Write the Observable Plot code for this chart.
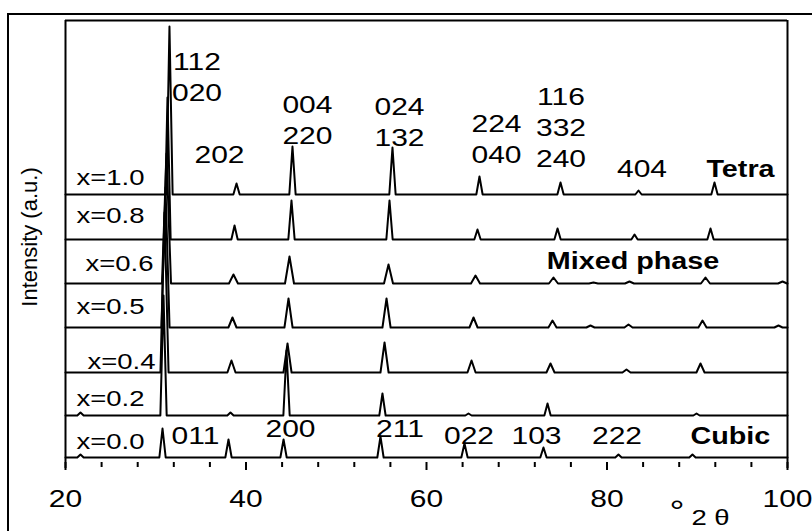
<!DOCTYPE html>
<html>
<head>
<meta charset="utf-8">
<script src="https://cdn.jsdelivr.net/npm/d3@7"></script>
<script src="https://cdn.jsdelivr.net/npm/@observablehq/plot@0.6"></script>
<style>
  html, body { margin: 0; padding: 0; background: #fff; }
  #wrap { position: relative; width: 812px; height: 531px; overflow: hidden; }
  #outer { position: absolute; left: 7px; top: 13px; width: 900px; height: 600px;
           border-top: 2px solid #000; border-left: 2px solid #000; }
  #chart { position: absolute; left: 0; top: 0; }
</style>
</head>
<body>
<div id="wrap"><div id="outer"></div><div id="chart"></div></div>
<script>
// ---- data (2θ in degrees, intensity in arbitrary stacked units) ----
const compositions = ["x=0.0", "x=0.2", "x=0.4", "x=0.5", "x=0.6", "x=0.8", "x=1.0"];
const stackOffsets = [5, 47, 90, 135, 179, 223, 268];
const peakHalfWidth = [0.35, 0.35, 0.45, 0.45, 0.5, 0.35, 0.35];

const peaks00 = [21.66, 30.75, 38.06, 44.16, 54.9, 64.21, 72.96, 81.27, 89.47];
const heights00 = [3, 29, 18, 18, 21, 14, 10, 3, 3];
const peaks02 = [21.66, 30.86, 38.28, 44.49, 55.12, 64.65, 73.41, 89.92];
const heights02 = [3, 120, 3, 65, 22, 2, 12, 2];
const peaks04 = [30.97, 38.39, 44.60, 55.35, 64.99, 73.74, 82.16, 90.36];
const heights04 = [160, 12, 29, 30, 12, 9, 3, 9];
const peaks05 = [31.08, 38.50, 44.71, 55.57, 65.21, 73.96, 78.17, 82.38, 90.58, 99.0];
const heights05 = [140, 10, 29, 29, 10, 7, 2, 3, 7, 2];
const peaks06 = [31.19, 38.61, 44.82, 55.79, 65.43, 74.07, 78.5, 82.49, 90.91, 99.45];
const heights06 = [130, 9, 27, 19, 8, 6, 1, 2, 6, 2];
const peaks08 = [31.30, 38.73, 45.04, 55.90, 65.65, 74.52, 83.05, 91.47];
const heights08 = [142, 14, 39, 39, 10, 11, 5, 11];
const peaks10 = [31.52, 38.95, 45.15, 56.23, 65.87, 74.85, 83.49, 91.91];
const heights10 = [168, 11, 48, 47, 18, 12, 4, 12];

const peakSets = [peaks00, peaks02, peaks04, peaks05, peaks06, peaks08, peaks10];
const heightSets = [heights00, heights02, heights04, heights05, heights06, heights08, heights10];

const xMajorTicks = [20, 40, 60, 80, 100];
const xMinorTicks = [24, 28, 32, 36, 44, 48, 52, 56, 64, 68, 72, 76, 84, 88, 92, 96];

// annotations (anchor in data units)
const sampleLabelX = [21.22, 21.22, 22.44, 21.22, 22.22, 21.22, 21.22];
const sampleLabelY = [14, 57, 94, 149, 192, 240, 278];

const hklText = ["112\n020", "202", "004\n220", "024\n132", "224\n040", "116\n332\n240", "404",
                 "011", "200", "211", "022", "103", "222"];
const hklX = [34.57, 37.06, 46.81, 57.01, 67.76, 74.90, 83.88, 34.40, 44.93, 57.06, 64.71, 72.19, 81.11];
const hklY = [362, 300, 319, 317, 300, 296, 286, 19, 26, 26, 19, 19, 19];

const phaseText = ["Tetra", "Mixed phase", "Cubic"];
const phaseX = [94.79, 82.88, 93.67];
const phaseY = [286, 194, 19];

// ---- build line table ----
const traces = [];
compositions.forEach((c, s) => {
  const off = stackOffsets[s], w = peakHalfWidth[s];
  traces.push({series: c, x: 20, y: off});
  peakSets[s].forEach((p, i) => {
    traces.push({series: c, x: p - w, y: off});
    traces.push({series: c, x: p, y: off + heightSets[s][i]});
    traces.push({series: c, x: p + w, y: off});
  });
  traces.push({series: c, x: 100, y: off});
});

const sampleLabels = compositions.map((t, i) => ({t, x: sampleLabelX[i], y: sampleLabelY[i]}));
const hklLabels = hklText.map((t, i) => ({t, x: hklX[i], y: hklY[i]}));
const phaseLabels = phaseText.map((t, i) => ({t, x: phaseX[i], y: phaseY[i]}));

const chart = Plot.plot({
  width: 812,
  height: 531,
  marginLeft: 65,
  marginRight: 25,
  marginTop: 20,
  marginBottom: 69,
  x: {domain: [20, 100], label: null},
  y: {domain: [0, 442], axis: null},
  style: {fontFamily: "'Liberation Sans', Arial, sans-serif", background: "transparent", color: "#000"},
  marks: [
    Plot.axisX({ticks: xMajorTicks, tickSize: 8, tickPadding: 19, fontSize: 24, strokeWidth: 2, label: null}),
    Plot.axisX({ticks: xMinorTicks, tickSize: 5, tickFormat: () => "", strokeWidth: 2, label: null}),
    Plot.ruleX([20, 100], {y1: -6, y2: 442, stroke: "#000", strokeWidth: 2}),
    Plot.ruleY([442], {x1: 20, x2: 100, stroke: "#000", strokeWidth: 2}),
    Plot.line(traces, {x: "x", y: "y", z: "series", stroke: "#000", strokeWidth: 2, strokeLinejoin: "round"}),
    Plot.text(sampleLabels, {x: "x", y: "y", text: "t", textAnchor: "start", lineAnchor: "bottom", fontSize: 22, fill: "#000"}),
    Plot.text(hklLabels, {x: "x", y: "y", text: "t", textAnchor: "middle", lineAnchor: "bottom", fontSize: 24, lineHeight: 1.28, fill: "#000"}),
    Plot.text(phaseLabels, {x: "x", y: "y", text: "t", textAnchor: "middle", lineAnchor: "bottom", fontSize: 23, fontWeight: "bold", fill: "#000"}),
    Plot.text(["°"], {x: 87.76, y: -58, text: d => d, textAnchor: "middle", lineAnchor: "bottom", fontSize: 30, fill: "#000"}),
    Plot.text(["2 θ"], {x: 91.47, y: -62, text: d => d, textAnchor: "middle", lineAnchor: "bottom", fontSize: 22, fill: "#000"}),
    Plot.text(["Intensity (a.u.)"], {x: 16.79, y: 225.5, text: d => d, rotate: -90, textAnchor: "middle", lineAnchor: "bottom", fontSize: 22, fill: "#000"})
  ]
});

// widen horizontal text to match the reference's stretched lettering
d3.select(chart).selectAll("text").each(function() {
  const t = this.getAttribute("transform") || "";
  if (t.includes("rotate")) return;
  this.setAttribute("transform", (t + " scale(1.25,1)").trim());
});

document.getElementById("chart").appendChild(chart);
</script>
</body>
</html>
